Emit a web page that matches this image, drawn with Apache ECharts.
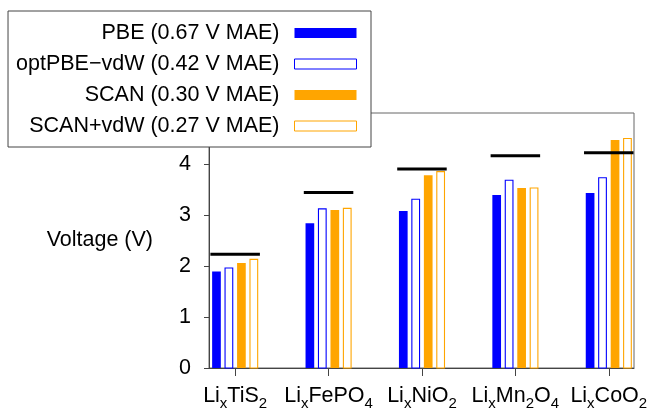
<!DOCTYPE html>
<html>
<head>
<meta charset="utf-8">
<script src="https://cdn.jsdelivr.net/npm/echarts@6/dist/echarts.min.js"></script>
<style>
html, body { margin: 0; padding: 0; background: #fff; }
#chart { width: 651px; height: 414px; }
</style>
</head>
<body>
<div id="chart"></div>
<script>
// ---- data ----
const categories = ['LixTiS2', 'LixFePO4', 'LixNiO2', 'LixMn2O4', 'LixCoO2'];
const seriesNames = ['PBE (0.67 V MAE)', 'optPBE\u2212vdW (0.42 V MAE)', 'SCAN (0.30 V MAE)', 'SCAN+vdW (0.27 V MAE)'];
const pbe      = [1.89, 2.84, 3.08, 3.39, 3.43];
const optpbe   = [1.97, 3.13, 3.32, 3.69, 3.74];
const scan     = [2.06, 3.10, 3.78, 3.53, 4.47];
const scanvdw  = [2.14, 3.14, 3.86, 3.54, 4.51];
const experiment = [2.23, 3.44, 3.90, 4.16, 4.22];
const yTicks = [0, 1, 2, 3, 4, 5];

// ---- styling ----
const FONT = "'Liberation Sans', Arial, Helvetica, sans-serif";
const FS = 21.5;
const BLUE = '#0000ff';
const ORANGE = '#ffa500';
const BAR_W = 0.093;
const EXP_HALF = 0.265;

function richLabel(name) {
  const m = name.match(/(Li)(x)(.*)/);
  let out = '{m|Li}{s|x}';
  m[3].split(/(\d+)/).forEach(function (p) {
    if (!p) return;
    if (/^\d+$/.test(p)) out += '{s|' + p + '}';
    else out += '{m|' + p + '}';
  });
  return out;
}

function toData(arr) { return arr.map(function (v, i) { return [i, v]; }); }

function barRender(offset, filled, color) {
  return function (params, api) {
    const x = api.value(0), v = api.value(1);
    const top = api.coord([x + offset, v]);
    const base = api.coord([x + offset, 0]);
    const w = api.size([BAR_W, 0])[0];
    if (filled) {
      return {
        type: 'rect',
        shape: { x: top[0] - w / 2, y: top[1], width: w, height: base[1] - top[1] },
        style: { fill: color }
      };
    }
    return {
      type: 'rect',
      shape: { x: top[0] - w / 2 + 0.5, y: top[1] + 0.5, width: w - 1, height: base[1] - top[1] - 0.5 },
      style: { fill: '#fff', stroke: color, lineWidth: 1.1 }
    };
  };
}

function expRender(params, api) {
  const x = api.value(0), v = api.value(1);
  const l = api.coord([x - EXP_HALF, v]);
  const r = api.coord([x + EXP_HALF, v]);
  return {
    type: 'rect',
    shape: { x: l[0], y: l[1] - 1.5, width: r[0] - l[0], height: 3 },
    style: { fill: '#000' }
  };
}

const offsets = [-0.2, -0.067, 0.067, 0.2];
const filledFlags = [true, false, true, false];
const colors = [BLUE, BLUE, ORANGE, ORANGE];
const values = [pbe, optpbe, scan, scanvdw];

const series = values.map(function (arr, k) {
  return {
    name: seriesNames[k],
    type: 'custom',
    renderItem: barRender(offsets[k], filledFlags[k], colors[k]),
    data: toData(arr),
    encode: { x: 0, y: 1 },
    z: 2
  };
});
series.push({
  name: 'Experiment',
  type: 'custom',
  renderItem: expRender,
  data: toData(experiment),
  encode: { x: 0, y: 1 },
  z: 3
});

const chart = echarts.init(document.getElementById('chart'), null, { renderer: 'canvas' });
chart.setOption({
  animation: false,
  backgroundColor: '#fff',
  textStyle: { fontFamily: FONT },
  grid: {
    left: 209, right: 17, top: 113, bottom: 46,
    show: true, borderColor: '#666', borderWidth: 1, backgroundColor: 'transparent'
  },
  legend: {
    orient: 'vertical',
    right: 280,
    top: 11,
    align: 'right',
    padding: [11, 14, 10, 8],
    itemGap: 9,
    itemWidth: 62,
    itemHeight: 10,
    backgroundColor: '#fff',
    borderColor: '#444',
    borderWidth: 1,
    z: 10,
    selectedMode: false,
    textStyle: { fontSize: FS, color: '#000', fontFamily: FONT, padding: [0, 10, 0, 0] },
    data: [
      { name: seriesNames[0], icon: 'rect', itemStyle: { color: BLUE, borderWidth: 0 } },
      { name: seriesNames[1], icon: 'rect', itemStyle: { color: '#fff', borderColor: BLUE, borderWidth: 1 } },
      { name: seriesNames[2], icon: 'rect', itemStyle: { color: ORANGE, borderWidth: 0 } },
      { name: seriesNames[3], icon: 'rect', itemStyle: { color: '#fff', borderColor: ORANGE, borderWidth: 1 } }
    ]
  },
  xAxis: {
    type: 'value',
    min: -0.28,
    max: 4.27,
    axisLine: { show: true, onZero: false, lineStyle: { color: '#444', width: 1 } },
    axisTick: { show: true, customValues: [0, 1, 2, 3, 4], length: 8, lineStyle: { color: '#444' } },
    splitLine: { show: false },
    axisLabel: {
      customValues: [0, 1, 2, 3, 4],
      margin: 17,
      formatter: function (v) { return richLabel(categories[Math.round(v)]); },
      rich: {
        m: { fontSize: FS, lineHeight: 21, verticalAlign: 'top', color: '#000', fontFamily: FONT },
        s: { fontSize: 15, lineHeight: 15, verticalAlign: 'top', padding: [11, 0, 0, 0], color: '#000', fontFamily: FONT }
      }
    }
  },
  yAxis: {
    type: 'value',
    min: yTicks[0],
    max: yTicks[yTicks.length - 1],
    interval: 1,
    name: 'Voltage (V)',
    nameLocation: 'middle',
    nameRotate: 0,
    nameGap: 56,
    nameTextStyle: { fontSize: FS, color: '#000', fontFamily: FONT },
    axisLine: { show: true, onZero: false, lineStyle: { color: '#444', width: 1 } },
    axisTick: { show: true, length: 5, lineStyle: { color: '#444' } },
    splitLine: { show: false },
    axisLabel: { fontSize: FS, color: '#000', margin: 18, fontFamily: FONT }
  },
  series: series
});
</script>
</body>
</html>
